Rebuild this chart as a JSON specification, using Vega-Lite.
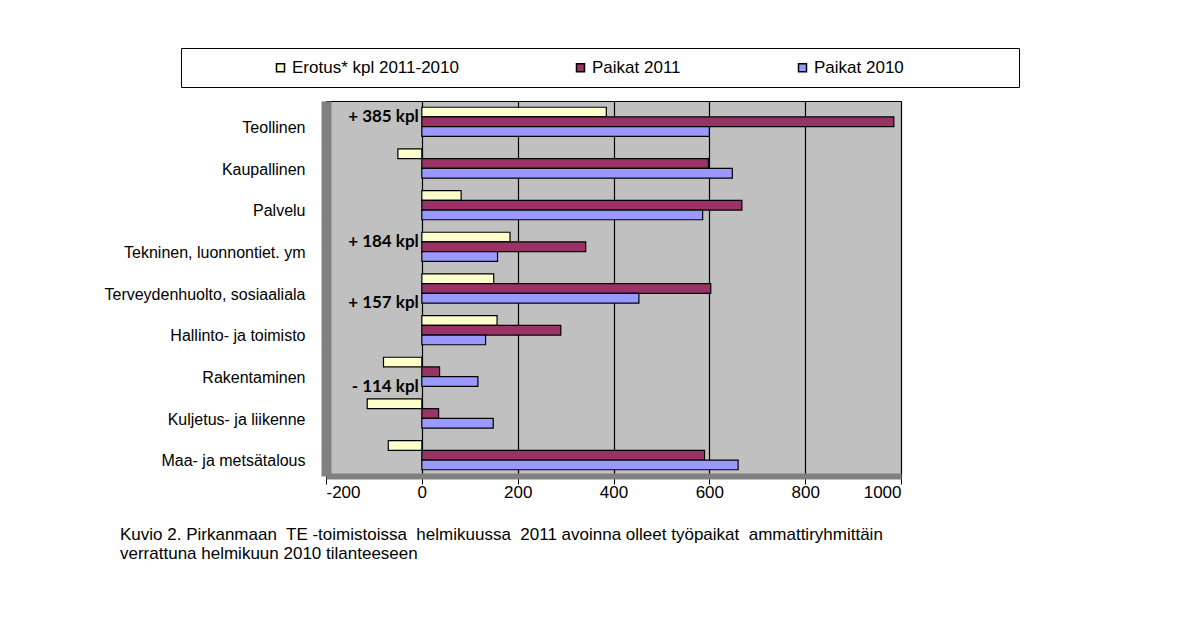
{
  "$schema": "https://vega.github.io/schema/vega-lite/v6.json",
  "width": 575,
  "height": 375,
  "autosize": {"type": "none"},
  "padding": {"left": 326, "top": 101, "right": 295, "bottom": 155},
  "background": "white",
  "config": {
    "view": {"fill": "#c0c0c0", "stroke": "#000", "strokeWidth": 1},
    "font": "Liberation Sans"
  },
  "datasets": {
    "paikat": [
      {"ryhma": "Teollinen", "sarja": "Erotus* kpl 2011-2010", "arvo": 385},
      {"ryhma": "Teollinen", "sarja": "Paikat 2011", "arvo": 985},
      {"ryhma": "Teollinen", "sarja": "Paikat 2010", "arvo": 600},
      {"ryhma": "Kaupallinen", "sarja": "Erotus* kpl 2011-2010", "arvo": -50},
      {"ryhma": "Kaupallinen", "sarja": "Paikat 2011", "arvo": 598},
      {"ryhma": "Kaupallinen", "sarja": "Paikat 2010", "arvo": 648},
      {"ryhma": "Palvelu", "sarja": "Erotus* kpl 2011-2010", "arvo": 82},
      {"ryhma": "Palvelu", "sarja": "Paikat 2011", "arvo": 668},
      {"ryhma": "Palvelu", "sarja": "Paikat 2010", "arvo": 586},
      {"ryhma": "Tekninen, luonnontiet. ym", "sarja": "Erotus* kpl 2011-2010", "arvo": 184},
      {"ryhma": "Tekninen, luonnontiet. ym", "sarja": "Paikat 2011", "arvo": 342},
      {"ryhma": "Tekninen, luonnontiet. ym", "sarja": "Paikat 2010", "arvo": 158},
      {"ryhma": "Terveydenhuolto, sosiaaliala", "sarja": "Erotus* kpl 2011-2010", "arvo": 150},
      {"ryhma": "Terveydenhuolto, sosiaaliala", "sarja": "Paikat 2011", "arvo": 603},
      {"ryhma": "Terveydenhuolto, sosiaaliala", "sarja": "Paikat 2010", "arvo": 453},
      {"ryhma": "Hallinto- ja toimisto", "sarja": "Erotus* kpl 2011-2010", "arvo": 157},
      {"ryhma": "Hallinto- ja toimisto", "sarja": "Paikat 2011", "arvo": 290},
      {"ryhma": "Hallinto- ja toimisto", "sarja": "Paikat 2010", "arvo": 133},
      {"ryhma": "Rakentaminen", "sarja": "Erotus* kpl 2011-2010", "arvo": -80},
      {"ryhma": "Rakentaminen", "sarja": "Paikat 2011", "arvo": 37},
      {"ryhma": "Rakentaminen", "sarja": "Paikat 2010", "arvo": 117},
      {"ryhma": "Kuljetus- ja liikenne", "sarja": "Erotus* kpl 2011-2010", "arvo": -114},
      {"ryhma": "Kuljetus- ja liikenne", "sarja": "Paikat 2011", "arvo": 35},
      {"ryhma": "Kuljetus- ja liikenne", "sarja": "Paikat 2010", "arvo": 149},
      {"ryhma": "Maa- ja metsätalous", "sarja": "Erotus* kpl 2011-2010", "arvo": -70},
      {"ryhma": "Maa- ja metsätalous", "sarja": "Paikat 2011", "arvo": 590},
      {"ryhma": "Maa- ja metsätalous", "sarja": "Paikat 2010", "arvo": 660}
    ],
    "merkinnat": [
      {"ryhma": "Teollinen", "sarja": "Erotus* kpl 2011-2010", "teksti": "+ 385 kpl"},
      {"ryhma": "Tekninen, luonnontiet. ym", "sarja": "Erotus* kpl 2011-2010", "teksti": "+ 184 kpl"},
      {"ryhma": "Terveydenhuolto, sosiaaliala", "sarja": "Paikat 2010", "teksti": "+ 157 kpl"},
      {"ryhma": "Rakentaminen", "sarja": "Paikat 2010", "teksti": "- 114 kpl"}
    ]
  },
  "title": {
    "text": ["Kuvio 2. Pirkanmaan\u00a0 TE -toimistoissa\u00a0 helmikuussa\u00a0 2011 avoinna olleet työpaikat\u00a0 ammattiryhmittäin", "verrattuna helmikuun 2010 tilanteeseen"],
    "orient": "bottom",
    "anchor": "start",
    "frame": "group",
    "dx": -206,
    "offset": 27,
    "font": "Liberation Sans",
    "fontSize": 17,
    "fontWeight": "normal",
    "color": "#000",
    "lineHeight": 19
  },
  "layer": [
    {
      "data": {"name": "paikat"},
      "mark": {"type": "bar", "stroke": "#000", "strokeWidth": 1.2},
      "encoding": {
        "y": {
          "field": "ryhma",
          "type": "nominal",
          "sort": ["Teollinen", "Kaupallinen", "Palvelu", "Tekninen, luonnontiet. ym", "Terveydenhuolto, sosiaaliala", "Hallinto- ja toimisto", "Rakentaminen", "Kuljetus- ja liikenne", "Maa- ja metsätalous"],
          "scale": {"domain": ["Teollinen", "Kaupallinen", "Palvelu", "Tekninen, luonnontiet. ym", "Terveydenhuolto, sosiaaliala", "Hallinto- ja toimisto", "Rakentaminen", "Kuljetus- ja liikenne", "Maa- ja metsätalous"], "paddingInner": 0.3, "paddingOuter": 0.15},
          "axis": {
            "title": null,
            "ticks": false,
            "labelPadding": 21,
            "labelOffset": 6,
            "labelFont": "Liberation Sans",
            "labelFontSize": 16,
            "labelColor": "#000",
            "labelLimit": 300,
            "domainColor": "#808080",
            "domainWidth": 10,
            "grid": false
          }
        },
        "x": {
          "field": "arvo",
          "type": "quantitative",
          "scale": {"domain": [-200, 1000], "nice": false, "zero": false},
          "axis": {
            "title": null,
            "values": [-200, 0, 200, 400, 600, 800, 1000],
            "labelExpr": "'' + datum.value",
            "grid": true,
            "gridColor": "#000",
            "gridOpacity": 1,
            "gridWidth": 1.2,
            "tickColor": "#000",
            "tickSize": 8,
            "labelPadding": 0,
            "labelFont": "Liberation Sans",
            "labelFontSize": 17,
            "labelColor": "#000",
            "domainColor": "#808080",
            "domainWidth": 6
          }
        },
        "yOffset": {
          "field": "sarja",
          "type": "nominal",
          "sort": ["Erotus* kpl 2011-2010", "Paikat 2011", "Paikat 2010"],
          "scale": {"domain": ["Erotus* kpl 2011-2010", "Paikat 2011", "Paikat 2010"], "paddingInner": 0, "paddingOuter": 0}
        },
        "color": {
          "field": "sarja",
          "type": "nominal",
          "sort": ["Erotus* kpl 2011-2010", "Paikat 2011", "Paikat 2010"],
          "scale": {"domain": ["Erotus* kpl 2011-2010", "Paikat 2011", "Paikat 2010"], "range": ["#FFFFCC", "#993366", "#9999FF"]},
          "legend": {
            "orient": "none",
            "legendX": -145,
            "legendY": -53,
            "direction": "horizontal",
            "columns": 3,
            "title": " ",
            "titleOrient": "left",
            "titlePadding": 80,
            "titleFontSize": 4,
            "fillColor": "#fff",
            "strokeColor": "#000",
            "padding": 11,
            "columnPadding": 113,
            "symbolType": "square",
            "symbolSize": 64,
            "symbolStrokeColor": "#000",
            "symbolStrokeWidth": 1.5,
            "symbolOpacity": 1,
            "labelFont": "Liberation Sans",
            "labelFontSize": 17,
            "labelColor": "#000",
            "labelOffset": 3,
            "labelLimit": 500,
            "labelExpr": "datum.label == 'Paikat 2010' ? datum.label + '\u00a0\u00a0\u00a0\u00a0\u00a0\u00a0\u00a0\u00a0\u00a0\u00a0\u00a0\u00a0\u00a0\u00a0\u00a0\u00a0\u00a0\u00a0\u00a0\u00a0\u00a0\u00a0\u200b' : datum.label"
          }
        }
      }
    },
    {
      "data": {"name": "merkinnat"},
      "mark": {"type": "text", "align": "right", "baseline": "middle", "dx": -3, "dy": 5, "font": "Lato", "fontWeight": "bold", "fontSize": 17, "color": "#000"},
      "encoding": {
        "y": {"field": "ryhma", "type": "nominal", "sort": ["Teollinen", "Kaupallinen", "Palvelu", "Tekninen, luonnontiet. ym", "Terveydenhuolto, sosiaaliala", "Hallinto- ja toimisto", "Rakentaminen", "Kuljetus- ja liikenne", "Maa- ja metsätalous"]},
        "yOffset": {"field": "sarja", "type": "nominal", "sort": ["Erotus* kpl 2011-2010", "Paikat 2011", "Paikat 2010"]},
        "x": {"datum": 0},
        "text": {"field": "teksti"}
      }
    }
  ]
}
